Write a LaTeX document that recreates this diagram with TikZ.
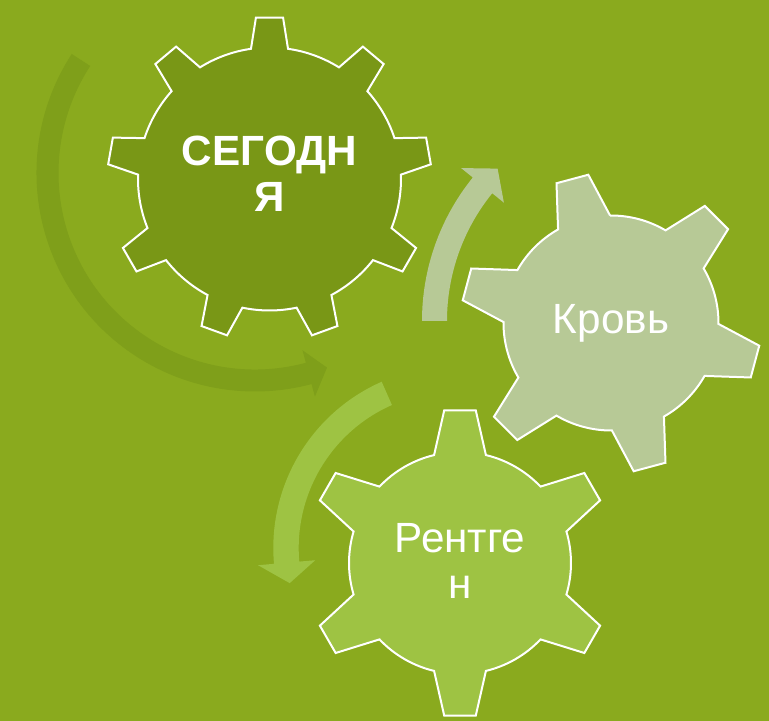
\documentclass[tikz,border=0pt]{standalone}
\usepackage{fontspec}
\setmainfont{Liberation Sans}
\usetikzlibrary{calc}
\definecolor{bggreen}{HTML}{8AAA1E}
\definecolor{darkolive}{HTML}{799716}
\definecolor{shadearrow}{HTML}{7F9F1A}
\definecolor{sage}{HTML}{B7C996}
\definecolor{lightgreen}{HTML}{9EC343}
\tikzset{
    % Gear outline style
    gear/.style={
        draw=white,
        line width=1.5pt,
        line join=miter,
        fill=#1
    },
    % Circular block arrow style
    turn arrow/.style={
        fill=#1,
        draw=none
    },
    % Caption style
    gear text/.style={
        text=white,
        align=center,
        inner sep=0pt,
        font=\fontsize{31.7}{34.5}\selectfont
    }
}
% #1 centre, #2 teeth, #3 tip radius, #4 root radius, #5 tip half angle, #6 root half angle, #7 first tooth, #8 style
\newcommand{\drawgear}[8]{%
    \begin{scope}[shift={(#1)}]
        \pgfmathtruncatemacro{\lastk}{#2-1}
        \pgfmathsetmacro{\pitch}{360/#2}
        \draw[#8] (#7-#6:#4)
            \foreach \k in {0,...,\lastk}{
                -- ({#7+\k*\pitch-#5}:#3) -- ({#7+\k*\pitch+#5}:#3) -- ({#7+\k*\pitch+#6}:#4)
                arc[start angle={#7+\k*\pitch+#6}, end angle={#7+(\k+1)*\pitch-#6}, radius=#4]
            } -- cycle;
    \end{scope}}
% #1 centre, #2 mid radius, #3 half width, #4 start, #5 end, #6 tip angle, #7 head overhang, #8 colour
\newcommand{\turnarrow}[8]{%
    \begin{scope}[shift={(#1)}]
        \pgfmathsetmacro{\rout}{#2+#3}
        \pgfmathsetmacro{\rin}{#2-#3}
        \pgfmathsetmacro{\hout}{#2+#3+#7}
        \pgfmathsetmacro{\hin}{#2-#3-#7}
        \fill[turn arrow=#8] (#4:\rout) arc[start angle=#4, end angle=#5, radius=\rout]
            -- (#5:\hout) -- (#6:#2) -- (#5:\hin) -- (#5:\rin)
            arc[start angle=#5, end angle=#4, radius=\rin] -- cycle;
    \end{scope}}

\begin{document}
\begin{tikzpicture}[x=0.75pt, y=0.75pt]
    % Background
    \fill[bggreen] (0,0) rectangle (769,721);
    \useasboundingbox (0,0) rectangle (769,721);

    % Centres
    \coordinate (today) at (269.5,542);
    \coordinate (blood) at (611,398);
    \coordinate (xray) at (460,158);
    \coordinate (turnA) at (255,548);
    \coordinate (turnB) at (650,400);
    \coordinate (turnC) at (455,173);

    % Arrows
    \turnarrow{turnA}{207.5}{11}{147}{285}{290.3}{13}{shadearrow}
    \turnarrow{turnB}{215.5}{12.5}{180}{141}{135}{15}{sage}
    \turnarrow{turnC}{169}{12.7}{113.8}{185}{192}{16}{lightgreen}

    % Gears
    \drawgear{today}{9}{162}{131.5}{4.8}{8.1}{90}{gear=darkolive}
    \drawgear{blood}{6}{150}{107.5}{6.3}{14.5}{105}{gear=sage}
    \drawgear{xray}{6}{153.5}{111}{5.9}{13.5}{90}{gear=lightgreen}

    % Captions
    \node[gear text, font=\fontsize{31.7}{34.5}\selectfont\bfseries] (todaytext) at ($(today)+(0,5)$) {СЕГОДН\\Я};
    \node[gear text] (bloodtext) at (blood) {Кровь};
    \node[gear text] (xraytext) at ($(xray)+(0,2)$) {Рентге\\н};
\end{tikzpicture}
\end{document}
